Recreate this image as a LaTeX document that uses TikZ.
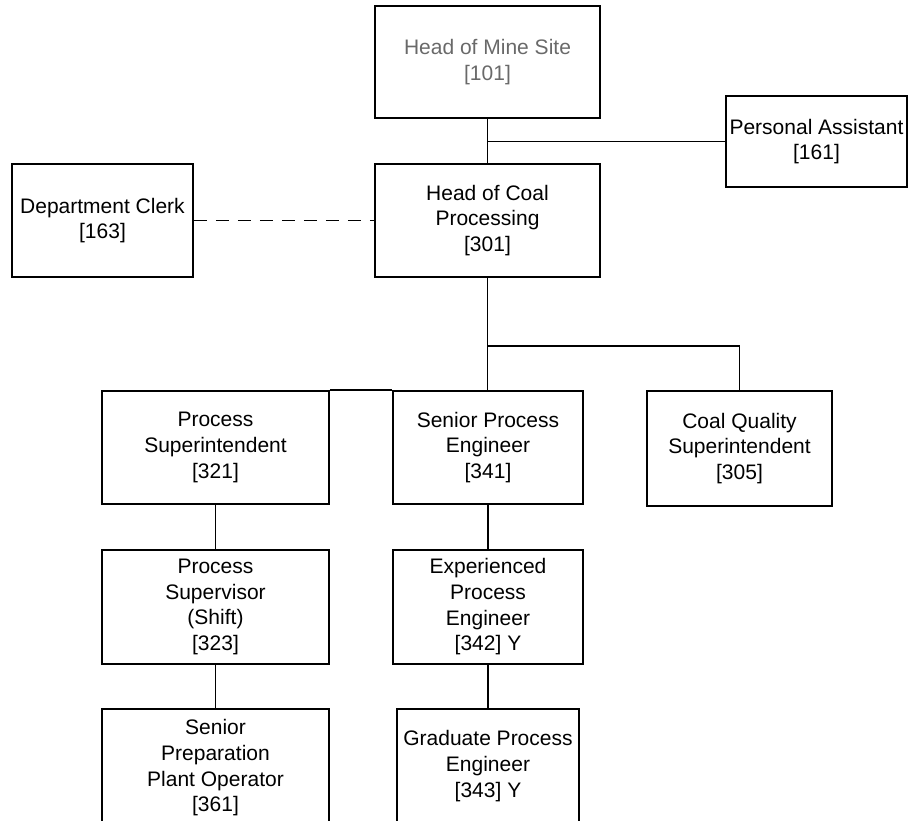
\documentclass[tikz,border=0pt]{standalone}
\usepackage{fontspec}
\setmainfont{Liberation Sans}
\definecolor{mgray}{RGB}{105,105,105}
\tikzset{
  orgtext/.style={inner sep=0pt, align=center, font=\fontsize{21}{25.7}\selectfont},
  orgbox/.style={orgtext, draw, line width=1.8pt},
  conn/.style={line width=1.8pt},
}
\begin{document}
\begin{tikzpicture}[x=1pt,y=-1pt]
\useasboundingbox (0,0) rectangle (912,820);
\clip (0,0) rectangle (912,820);
\node[orgbox, minimum width=225pt, minimum height=112pt, text=mgray] (hms) at (487.5,62) {Head of Mine Site\\{}[101]};
\node[orgbox, minimum width=181pt, minimum height=91pt] (pa) at (816.5,141.5) {Personal Assistant\\{}[161]};
\node[orgbox, minimum width=181pt, minimum height=113pt] (dc) at (102.5,220.5) {Department Clerk\\{}[163]};
\node[orgbox, minimum width=225pt, minimum height=113pt] (hcp) at (487.5,220.5) {Head of Coal\\Processing\\{}[301]};
\node[orgbox, minimum width=227pt, minimum height=113pt] (ps) at (215.5,447.5) {Process\\Superintendent\\{}[321]};
\node[orgbox, minimum width=190pt, minimum height=113pt] (spe) at (488,447.5) {Senior Process\\Engineer\\{}[341]};
\node[orgbox, minimum width=185pt, minimum height=115pt] (cqs) at (739.5,448.5) {Coal Quality\\Superintendent\\{}[305]};
\node[orgbox, minimum width=227pt, minimum height=114pt] (psv) at (215.5,607) {Process\\Supervisor\\(Shift)\\{}[323]};
\node[orgbox, minimum width=190pt, minimum height=114pt] (epe) at (488,607) {Experienced\\Process\\Engineer\\{}[342] Y};
\node[orgbox, minimum width=227pt, minimum height=118pt] (spo) at (215.5,768) {};
\node[orgtext] (spot) at (215.5,768) {Senior\\Preparation\\Plant Operator\\{}[361]};
\node[orgbox, minimum width=182pt, minimum height=118pt] (gpe) at (488,768) {};
\node[orgtext] (gpet) at (488,766) {Graduate Process\\Engineer\\{}[343] Y};
\coordinate (j1) at (487.5,141.5);
\coordinate (j2) at (487.5,346);
\draw[conn] (hms.south) -- (hcp.north);
\draw[conn] (j1) -- (pa.west);
\draw[conn, dash pattern=on 13pt off 9pt] (dc.east) -- (hcp.west);
\draw[conn] (hcp.south) -- (hcp.south |- spe.north);
\draw[conn] (j2) -| (cqs.north);
\draw[conn] (ps.north east) -- (spe.north west);
\draw[conn] (ps.south) -- (psv.north);
\draw[conn] (psv.south) -- (spo.north);
\draw[conn] (spe.south) -- (epe.north);
\draw[conn] (epe.south) -- (gpe.north);
\end{tikzpicture}
\end{document}
